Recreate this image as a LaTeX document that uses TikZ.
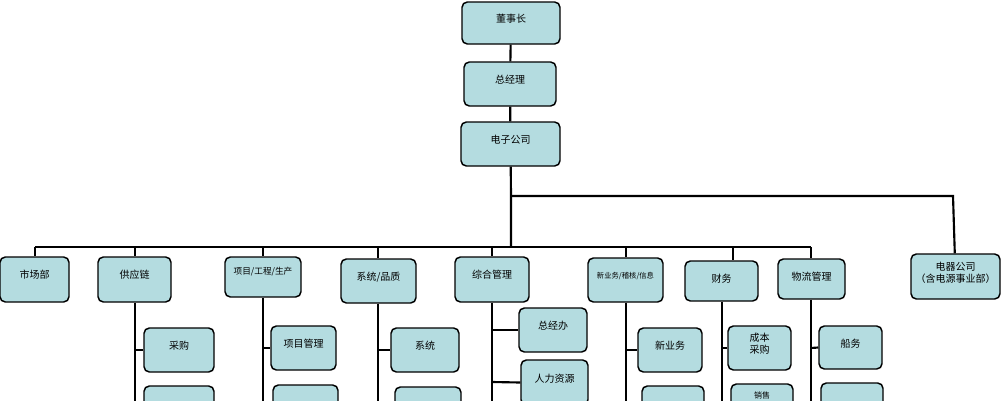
\documentclass[tikz,border=0pt]{standalone}
\usepackage{fontspec}
\setmainfont{Noto Sans CJK SC}
\usetikzlibrary{fit}
\definecolor{boxfill}{HTML}{B4DCE0}
\tikzset{
 box/.style={draw=black,line width=1.1pt,fill=boxfill,rounded corners=4pt,inner sep=0pt,font=\fontsize{7.5}{9}\selectfont,align=center},
 top/.style={label={[anchor=north,yshift=-7pt,font=\fontsize{7.5}{9}\selectfont,align=center]north:#1}},
 wire/.style={line width=1.6pt}
}
\begin{document}
\begin{tikzpicture}[x=0.75pt,y=-0.75pt]
\useasboundingbox (0,0) rectangle (1002,400);
\clip (0,0) rectangle (1002,400);
% top chain
\node[box,fit={(462,2)(560,44)}] (dsz) {董事长};
\node[box,fit={(464,62)(556,106)}] (zjl) {总经理};
\node[box,fit={(461,122)(560,166)}] (dz) {电子公司};
\coordinate (j1) at (511,196);
\coordinate (j2) at (953,196);
\coordinate (bus) at (511,247);
\coordinate (busL) at (35,247);
\coordinate (busR) at (811,247);
% level boxes
\node[box,fit={(0,257)(69,302)},top={市场部}] (scb) {};
\node[box,fit={(98,257)(171,302)},top={供应链}] (gyl) {};
\node[box,fit={(225,257)(301,297)},label={[anchor=north,yshift=-5pt,font=\fontsize{6.5}{8}\selectfont]north:项目/工程/生产}] (xm) {};
\node[box,fit={(341,259)(416,303)},top={系统/品质}] (xt) {};
\node[box,fit={(455,257)(529,302)},top={综合管理}] (zh) {};
\node[box,fit={(588,258)(663,302)},label={[anchor=north,yshift=-8pt,font=\fontsize{5.5}{7}\selectfont]north:新业务/稽核/信息}] (xyw) {};
\node[box,fit={(685,261)(758,301)},top={财务}] (cw) {};
\node[box,fit={(778,259)(845,299)},top={物流管理}] (wl) {};
\node[box,fit={(911,254)(1000,299)}] (dq) {电器公司\\（含电源事业部）};
% sub boxes
\node[box,fit={(144,328)(214,372)}] (cg) {采购};
\node[box,fit={(144,386)(214,430)}] (gyl2) {};
\node[box,fit={(271,326)(336,370)}] (xmgl) {项目管理};
\node[box,fit={(273,385)(338,429)}] (xm2) {};
\node[box,fit={(391,328)(459,372)}] (xtb) {系统};
\node[box,fit={(395,387)(461,431)}] (xt2) {};
\node[box,fit={(519,308)(587,352)}] (zjb) {总经办};
\node[box,fit={(521,360)(588,405)}] (rlzy) {人力资源};
\node[box,fit={(638,328)(702,372)}] (xywb) {新业务};
\node[box,fit={(642,386)(704,430)}] (xyw2) {};
\node[box,fit={(728,326)(791,370)}] (cbcg) {成本\\采购};
\node[box,fit={(731,384)(793,428)},label={[anchor=north,yshift=-3pt,font=\fontsize{6}{7}\selectfont]north:销售}] (xs) {};
\node[box,fit={(819,326)(882,369)}] (cw2) {船务};
\node[box,fit={(821,383)(883,427)}] (wl2) {};
% wires
\begin{scope}[on background layer/.try]
\end{scope}
\draw[wire] (dsz) -- (zjl);
\draw[wire] (zjl) -- (dz);
\draw[wire] (dz) -- (j1) -- (bus);
\draw[wire] (j1) -- (j2) -- (dq);
\draw[wire] (busL) -- (busR);
\foreach \n/\x in {scb/35,gyl/135,xm/263,xt/378,zh/492,xyw/626,cw/733,wl/811}
  \draw[wire] (\x,247) -- (\n.north -| {(\x,0)});
% branches
\foreach \n/\x in {gyl/135,xm/263,xt/378,zh/492,xyw/626,cw/722,wl/811}
  \draw[wire] (\n.south -| {(\x,0)}) -- (\x,410);
\draw[wire] (135,350) -- (cg.west);
\draw[wire] (135,408) -- (gyl2.west);
\draw[wire] (263,348) -- (xmgl.west);
\draw[wire] (263,407) -- (xm2.west);
\draw[wire] (378,350) -- (xtb.west);
\draw[wire] (378,409) -- (xt2.west);
\draw[wire] (492,330) -- (zjb.west);
\draw[wire] (492,382) -- (rlzy.west);
\draw[wire] (626,350) -- (xywb.west);
\draw[wire] (626,408) -- (xyw2.west);
\draw[wire] (722,348) -- (cbcg.west);
\draw[wire] (722,406) -- (xs.west);
\draw[wire] (811,348) -- (cw2.west);
\draw[wire] (811,405) -- (wl2.west);
\end{tikzpicture}
\end{document}
